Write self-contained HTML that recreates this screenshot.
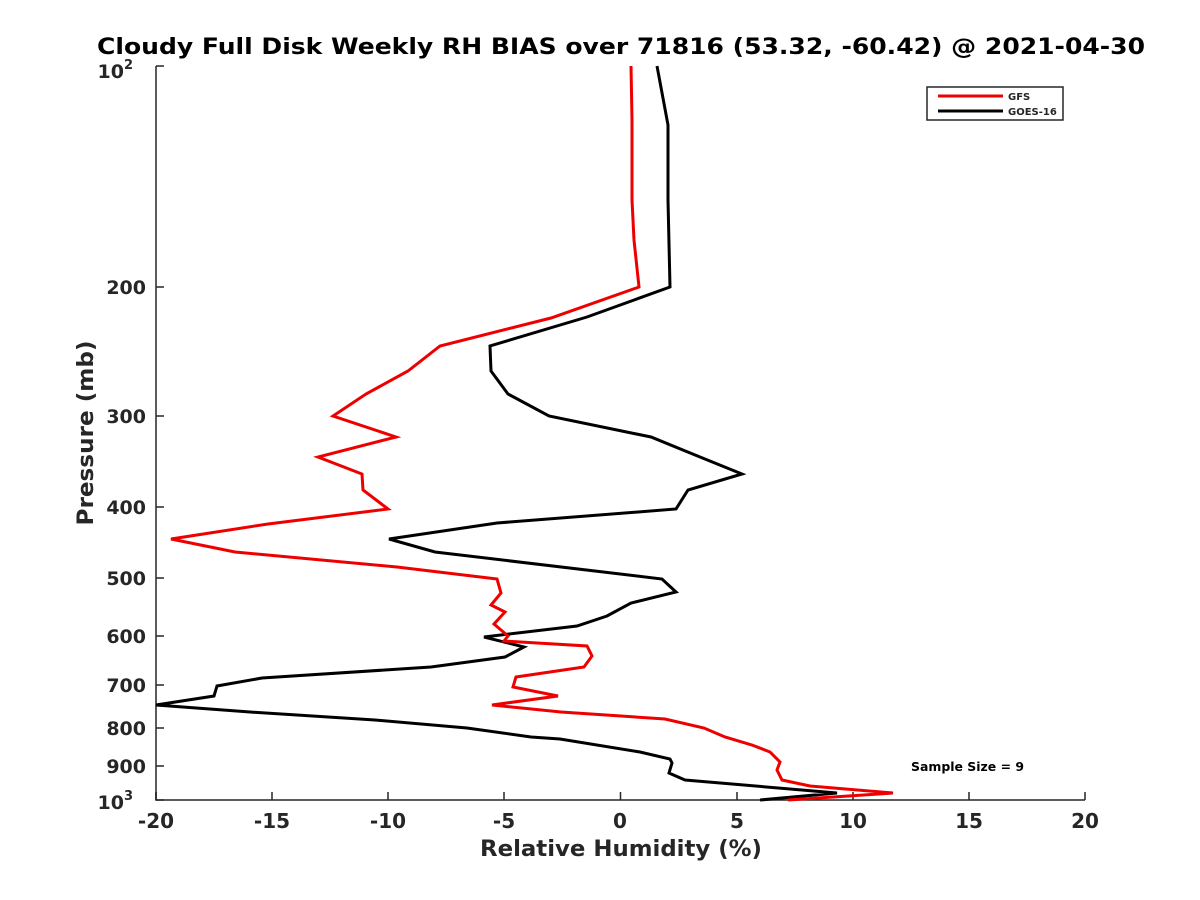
<!DOCTYPE html>
<html><head><style>body{margin:0;background:#fff}svg{display:block}text{font-family:"DejaVu Sans","Liberation Sans",sans-serif;font-weight:bold;fill:#262626}</style></head>
<body>
<svg width="1200" height="900" xmlns="http://www.w3.org/2000/svg">
<rect width="1200" height="900" fill="#fff"/>
<text x="97" y="54" font-size="22" textLength="1048" lengthAdjust="spacingAndGlyphs" style="fill:#000">Cloudy Full Disk Weekly RH BIAS over 71816 (53.32, -60.42) @ 2021-04-30</text>
<g stroke="#262626" stroke-width="1.5" fill="none">
<path d="M156,66V800H1085"/>
<path d="M156,800v-8M388,800v-8M620.5,800v-8M853,800v-8M1085,800v-8"/>
<path d="M156,800v-8M272,800v-8M504,800v-8M737,800v-8M969,800v-8"/>
<path d="M156,66h8M156,287h8M156,416h8M156,507h8M156,578h8M156,636h8M156,685h8M156,728h8M156,766h8M156,800h8"/>
</g>
<g font-size="20" text-anchor="middle">
<text x="156" y="828">-20</text><text x="272" y="828">-15</text><text x="388" y="828">-10</text><text x="504" y="828">-5</text><text x="620" y="828">0</text><text x="737" y="828">5</text><text x="853" y="828">10</text><text x="969" y="828">15</text><text x="1085" y="828">20</text>
</g>
<g font-size="19" text-anchor="end">
<text x="133" y="78">10<tspan font-size="13" dy="-9">2</tspan></text>
<text x="146" y="294">200</text><text x="146" y="423">300</text><text x="146" y="514">400</text><text x="146" y="585">500</text><text x="146" y="643">600</text><text x="146" y="692">700</text><text x="146" y="735">800</text><text x="146" y="773">900</text>
<text x="133" y="809">10<tspan font-size="13" dy="-9">3</tspan></text>
</g>
<text x="621" y="856" font-size="22" text-anchor="middle" textLength="282" lengthAdjust="spacingAndGlyphs">Relative Humidity (%)</text>
<text transform="translate(93,433) rotate(-90)" font-size="22" text-anchor="middle" textLength="185" lengthAdjust="spacingAndGlyphs">Pressure (mb)</text>
<polyline fill="none" stroke="#000" stroke-width="3" points="657,66 668,125 668,200 670,287 587,317 490,346 491,371 508,394 549,416 651,437 700,457 742,474 688,490 676,509 497,523 389,539 435,552 662,579 676,592 631,603 607,616 577,626 484,637 524,647 505,657 431,667 262,678 217,686 214,696 156,705 250,712 375,720 467,728 531,737 560,739 640,752 670,759 672,763 669,773 685,780 837,793 760,800"/>
<polyline fill="none" stroke="#e00" stroke-width="3" points="631,66 632,120 632,200 634,240 639,287 551,318 440,346 408,371 366,394 333,416 396,437 318,457 362,474 363,490 388,509 268,524 171,539 235,552 397,567 497,579 501,593 491,605 505,612 494,624 508,636 504,641 587,646 592,656 584,667 516,677 513,687 558,696 492,705 561,712 665,719 704,728 725,737 752,745 770,752 780,762 777,770 782,780 810,786 893,793 788,800"/>
<rect x="927" y="87" width="136" height="33" fill="#fff" stroke="#262626" stroke-width="1.5"/>
<line x1="938" y1="96" x2="1003" y2="96" stroke="#e00" stroke-width="3"/>
<line x1="938" y1="111" x2="1003" y2="111" stroke="#000" stroke-width="3"/>
<text x="1008" y="100" font-size="10">GFS</text>
<text x="1008" y="115" font-size="10">GOES-16</text>
<text x="911" y="771" font-size="12" textLength="113" lengthAdjust="spacingAndGlyphs" style="fill:#000">Sample Size = 9</text>
</svg>
</body></html>
